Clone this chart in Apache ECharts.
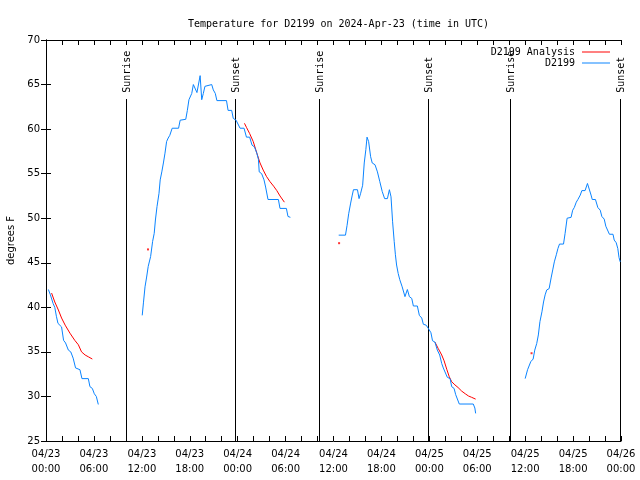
<!DOCTYPE html>
<html><head><meta charset="utf-8">
<script src="https://cdn.jsdelivr.net/npm/echarts@6/dist/echarts.min.js"></script>
<style>html,body{margin:0;padding:0;background:#fff}#c{width:640px;height:480px}</style>
</head><body><div id="c"></div>
<script>
// hours since 04/23 00:00 UTC, temperature in F
const tickLabels = ['04/23\n00:00','04/23\n06:00','04/23\n12:00','04/23\n18:00','04/24\n00:00','04/24\n06:00','04/24\n12:00','04/24\n18:00','04/25\n00:00','04/25\n06:00','04/25\n12:00','04/25\n18:00','04/26\n00:00'];

const blueSeg1 = [[0.3,42],[0.55,41.4],[0.9,40.4],[1.1,40],[1.3,39],[1.5,38.2],[1.95,37.8],[2.2,36.3],[2.45,36],[2.8,35.2],[3.1,35],[3.4,34.3],[3.7,33.2],[4.25,33],[4.5,32],[5.3,32],[5.5,31.1],[5.8,30.9],[6.05,30.3],[6.3,30],[6.55,29.1]];
const blueSeg2 = [[12.05,39.1],[12.2,40.5],[12.4,42.3],[12.6,43.4],[12.8,44.6],[13.1,45.7],[13.35,47.4],[13.55,48.3],[13.7,49.8],[13.9,51.3],[14.15,52.8],[14.3,54.3],[14.5,55.2],[14.7,56.2],[14.9,57.3],[15.1,58.6],[15.3,59],[15.5,59.3],[15.8,60.1],[16.6,60.1],[16.8,61],[17.5,61.1],[17.7,62.1],[17.9,63.3],[18.25,64],[18.45,65],[18.65,64.8],[18.9,64.1],[19.1,64.1],[19.3,66],[19.5,63.3],[19.7,64],[19.9,64.8],[20.1,65],[20.75,65],[20.95,64.4],[21.2,64],[21.4,63.2],[22.6,63.2],[22.8,62.1],[23.25,62.1],[23.45,61.2],[23.8,61],[24.0,60.8],[24.3,60.1],[24.8,60.1],[25.1,59.1],[25.5,59.1],[25.8,58.2],[26.1,58],[26.4,57.3],[26.6,56.6],[26.7,55.2],[27.0,55],[27.3,54.3],[27.5,53.5],[27.8,52.1],[29.1,52.1],[29.3,51.1],[30.1,51.1],[30.3,50.2],[30.6,50.1]];
const blueSeg3 = [[36.65,48.1],[37.5,48.1],[37.7,49.2],[37.9,50.5],[38.15,51.7],[38.35,52.6],[38.5,53.2],[39.0,53.2],[39.2,52.2],[39.4,52.8],[39.65,53.7],[39.85,56.2],[40.05,57.7],[40.2,59.1],[40.4,58.6],[40.65,56.9],[40.85,56.2],[41.2,56],[41.5,55.2],[41.8,54.1],[42.1,53],[42.4,52.2],[42.75,52.2],[43.0,53.2],[43.2,52.4],[43.4,49.6],[43.6,47.4],[43.75,45.9],[43.9,44.75],[44.1,43.8],[44.3,43.1],[44.6,42.3],[44.95,41.2],[45.25,42],[45.5,41.2],[45.8,41],[46.0,40.15],[46.5,40.15],[46.75,39.1],[47.05,38.8],[47.25,38.1],[47.6,38],[47.9,37.6],[48.2,37.15],[48.4,36.25],[48.7,36.1],[49.0,35.2],[49.3,34.65],[49.55,33.7],[49.75,33.2],[50.0,33],[50.25,32.15],[50.6,32],[50.8,31.1],[51.1,30.9],[51.3,30.2],[51.5,30],[51.75,29.15],[53.5,29.15],[53.7,28.7],[53.8,28.1]];
const blueSeg4 = [[60.0,32],[60.3,33],[60.5,33.2],[60.7,33.9],[61.0,34.2],[61.2,35.2],[61.45,35.95],[61.65,36.9],[61.85,38.4],[62.1,39.5],[62.3,40.6],[62.5,41.4],[62.7,41.95],[63.0,42.1],[63.25,43.3],[63.45,44.2],[63.65,45.1],[63.9,45.9],[64.1,46.6],[64.3,47.1],[64.8,47.1],[65.0,48.3],[65.25,50],[65.75,50.1],[65.95,50.9],[66.15,51.2],[66.4,51.8],[66.6,52.1],[66.9,52.6],[67.1,53.1],[67.5,53.1],[67.8,53.9],[68.0,54],[68.25,52.6],[68.4,52.1],[68.8,52.1],[69.1,51.2],[69.4,50.9],[69.6,50.2],[69.9,49.9],[70.1,49.1],[70.35,49],[70.55,48.2],[71.0,48.2],[71.15,47.55],[71.4,47.25],[71.6,46.6],[71.75,45.6],[71.9,45.1]];

const redSeg1 = [[0.7,41.6],[1.1,40.6],[1.55,39.7],[1.95,38.8],[2.4,38],[3.0,37.1],[3.6,36.3],[4.05,35.8],[4.45,35],[4.9,34.65],[5.3,34.45],[5.8,34.2]];
const redSeg2 = [[24.85,60.65],[25.1,60.2],[25.5,59.5],[25.95,58.6],[26.4,57.3],[26.8,56.2],[27.2,55.4],[27.6,54.7],[28.05,54.1],[28.5,53.6],[28.9,53.1],[29.3,52.5],[29.85,51.8]];
const redSeg3 = [[48.7,36.1],[49.1,35.4],[49.55,34.65],[49.85,34],[50.2,33],[50.5,32.2],[50.8,31.65],[51.2,31.3],[51.6,31],[52.05,30.6],[52.5,30.3],[52.9,30.05],[53.3,29.9],[53.8,29.7]];
const redDots = [[12.77,46.5],[36.7,47.2],[60.8,34.85]];

const sunHours = [10.0, 23.67, 34.2, 47.83, 58.1, 71.9];
const sunLabels = ['Sunrise','Sunset','Sunrise','Sunset','Sunrise','Sunset'];
const sunLineTop = 63.4;

const BLUE = '#0a84ff', RED = '#ff0000';
const MONO = '"DejaVu Sans Mono", monospace';
const SANS = '"DejaVu Sans", sans-serif';

function lineSeries(name, data, color) {
  return {name, type:'line', data, showSymbol:false, symbol:'none', color,
    lineStyle:{color, width:1}, animation:false, z:3};
}

const series = [
  lineSeries('D2199 Analysis', redSeg1, RED),
  lineSeries('D2199 Analysis', redSeg2, RED),
  lineSeries('D2199 Analysis', redSeg3, RED),
  {name:'D2199 Analysis', type:'scatter', data:redDots, symbol:'rect', symbolSize:2, color:RED, itemStyle:{color:RED}, animation:false, z:3},
  lineSeries('D2199', blueSeg1, BLUE),
  lineSeries('D2199', blueSeg2, BLUE),
  lineSeries('D2199', blueSeg3, BLUE),
  lineSeries('D2199', blueSeg4, BLUE),
  {type:'custom', data: sunHours.map((h,i)=>[h, i]), animation:false, z:2,
    renderItem: function(params, api){
      const h = api.value(0), idx = api.value(1);
      const p0 = api.coord([h, 25]);
      const p1 = api.coord([h, sunLineTop]);
      const x = Math.round(p0[0]) + 0.5;
      return {type:'group', children:[
        {type:'line', shape:{x1:x, y1:Math.round(p0[1]), x2:x, y2:Math.round(p1[1])}, style:{stroke:'#000', lineWidth:1}},
        {type:'text', x:x+0.5, y:p1[1]-6, rotation:Math.PI/2,
          style:{text:sunLabels[idx], fill:'#000', font:'10px '+MONO, textAlign:'left', textVerticalAlign:'middle'}}
      ]};
    }
  }
];

const xCommon = {type:'value', min:0, max:72, interval:6,
  axisLine:{show:true, lineStyle:{color:'#000', width:1}},
  axisTick:{show:true, inside:true, length:5, lineStyle:{color:'#000'}},
  minorTick:{show:true, splitNumber:3, length:5, lineStyle:{color:'#000'}},
  splitLine:{show:false}, minorSplitLine:{show:false}};
const yCommon = {type:'value', min:25, max:70, interval:5,
  axisLine:{show:true, lineStyle:{color:'#000', width:1}},
  axisTick:{show:true, inside:true, length:5, lineStyle:{color:'#000'}},
  splitLine:{show:false}};

const chart = echarts.init(document.getElementById('c'), null, {renderer:'canvas'});
chart.setOption({
  animation:false,
  backgroundColor:'#fff',
  title:{text:'Temperature for D2199 on 2024-Apr-23 (time in UTC)', left:183, top:14,
    textStyle:{fontFamily:MONO, fontSize:10, fontWeight:'normal', color:'#000'}},
  legend:{data:['D2199 Analysis','D2199'], orient:'vertical', right:25, top:42, align:'right',
    icon:'rect', itemWidth:28, itemHeight:1, itemGap:1,
    textStyle:{fontFamily:MONO, fontSize:10, color:'#000', padding:[0,2,0,0]}},
  grid:{left:46, right:19, top:40, bottom:39, containLabel:false, outerBoundsMode:'none'},
  xAxis:[
    Object.assign({}, xCommon, {position:'bottom',
      axisLabel:{show:true, color:'#000', fontFamily:SANS, fontSize:10, lineHeight:15, margin:6,
        formatter:(v)=>tickLabels[Math.round(v/6)]}}),
    Object.assign({}, xCommon, {position:'top', axisLabel:{show:false}})
  ],
  yAxis:[
    Object.assign({}, yCommon, {position:'left', name:'degrees F', nameLocation:'middle', nameGap:30,
      nameTextStyle:{fontFamily:SANS, fontSize:10, color:'#000'},
      axisLabel:{show:true, color:'#000', fontFamily:SANS, fontSize:10, margin:6}}),
    Object.assign({}, yCommon, {position:'right', axisLabel:{show:false}})
  ],
  series
});
</script></body></html>
